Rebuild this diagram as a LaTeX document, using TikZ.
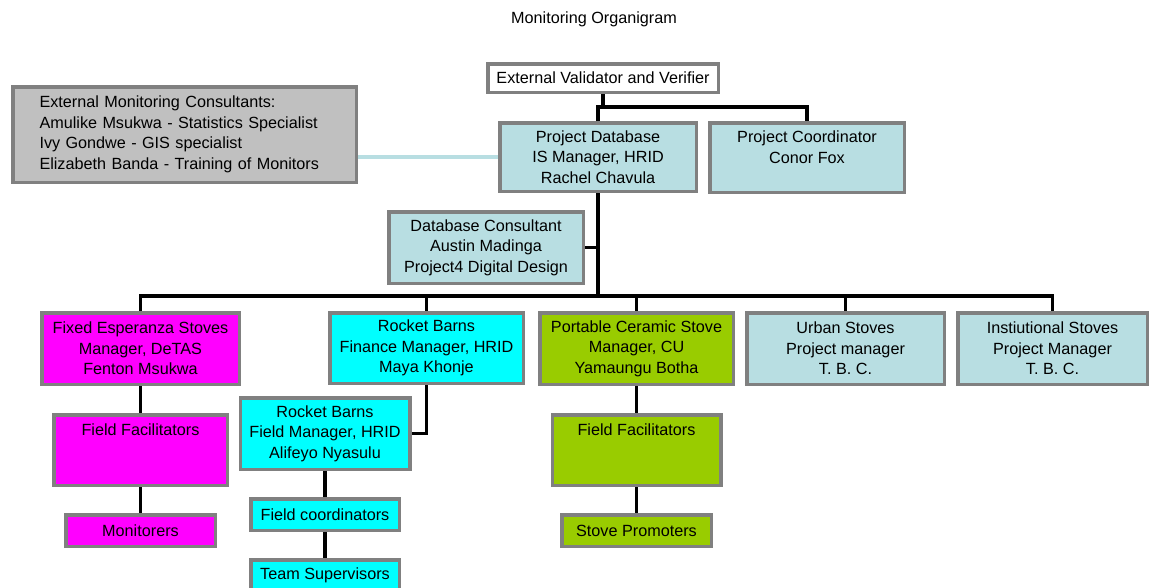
\documentclass[tikz,border=0pt]{standalone}
\usepackage{fontspec}
\setmainfont{Liberation Sans}
\definecolor{frame}{HTML}{808080}
\definecolor{silver}{HTML}{C0C0C0}
\definecolor{ice}{HTML}{B8DEE2}
\definecolor{fuchsia}{HTML}{FF00FF}
\definecolor{aqua}{HTML}{00FFFF}
\definecolor{stovegreen}{HTML}{99CC00}

\begin{document}
\begin{tikzpicture}[x=1pt,y=-1pt,font=\fontsize{16.2}{20.5}\selectfont,
    box/.style={draw=frame,line width=3.5pt,align=center,inner sep=0pt},
    link/.style={line width=3.5pt},
    softlink/.style={draw=ice,line width=4pt}]
    \useasboundingbox (0,0) rectangle (1149,587);
    \node (title) at (594,19) {Monitoring Organigram};
    \node[box,fill=white,minimum width=230.5pt,minimum height=28.5pt] (val) at (603,78) {External Validator and Verifier};
    \node[box,fill=silver,minimum width=343.5pt,minimum height=95.5pt,text width=290pt,align=left] (ext) at (184.5,134.5) {External Monitoring Consultants:\\Amulike Msukwa - Statistics Specialist\\Ivy Gondwe - GIS specialist\\Elizabeth Banda - Training of Monitors};
    \node[box,fill=ice,minimum width=196.5pt,minimum height=68.5pt] (db) at (598,157) {Project Database\\IS Manager, HRID\\Rachel Chavula};
    \node[box,fill=ice,minimum width=194.5pt,minimum height=69.5pt] (coord) at (807,157.5) {Project Coordinator\\Conor Fox\\\phantom{Conor Fox}};
    \node[box,fill=ice,minimum width=194.5pt,minimum height=71.5pt] (cons) at (486,247.5) {Database Consultant\\Austin Madinga\\Project4 Digital Design};
    \node[box,fill=fuchsia,minimum width=197.5pt,minimum height=71.5pt] (fix) at (140.5,348.5) {Fixed Esperanza Stoves\\Manager, DeTAS\\Fenton Msukwa};
    \node[box,fill=aqua,minimum width=193.5pt,minimum height=70.5pt] (fin) at (426.5,348) {Rocket Barns\\Finance Manager, HRID\\Maya Khonje};
    \node[box,fill=stovegreen,minimum width=193.5pt,minimum height=71.5pt] (port) at (636.5,348.5) {Portable Ceramic Stove\\Manager, CU\\Yamaungu Botha};
    \node[box,fill=ice,minimum width=197.5pt,minimum height=71.5pt] (urban) at (845.5,348.5) {Urban Stoves\\Project manager\\T. B. C.};
    \node[box,fill=ice,minimum width=189.5pt,minimum height=71.5pt] (inst) at (1052.5,348.5) {Instiutional Stoves\\Project Manager\\T. B. C.};
    \node[box,fill=fuchsia,minimum width=173.5pt,minimum height=70.5pt] (ff1) at (140.5,450) {Field Facilitators\\\phantom{Field}\\\phantom{Field}};
    \node[box,fill=fuchsia,minimum width=149.5pt,minimum height=31.5pt] (mon) at (140.5,530.5) {Monitorers};
    \node[box,fill=aqua,minimum width=169.5pt,minimum height=71.5pt] (fm) at (325,433.5) {Rocket Barns\\Field Manager, HRID\\Alifeyo Nyasulu};
    \node[box,fill=aqua,minimum width=148.5pt,minimum height=31.5pt] (fc) at (325,514.5) {Field coordinators};
    \node[box,fill=aqua,minimum width=148.5pt,minimum height=31.5pt] (ts) at (325,575.5) {Team Supervisors};
    \node[box,fill=stovegreen,minimum width=168.5pt,minimum height=70.5pt] (ff2) at (636.5,450) {Field Facilitators\\\phantom{Field}\\\phantom{Field}};
    \node[box,fill=stovegreen,minimum width=149.5pt,minimum height=31.5pt] (sp) at (636.5,530.5) {Stove Promoters};
    \coordinate (vjoin) at (603,107);
    \coordinate (spine) at (598,296);
    \draw[link] (val) -- (vjoin);
    \draw[link] (db.north) |- (vjoin) -| (coord.north);
    \draw[softlink] (db.west) -- (ext.east |- db.west);
    \draw[link] (db) -- (spine);
    \draw[link] (cons.east) -- (cons.east -| spine);
    \foreach \n in {fix,fin,port,urban,inst} \draw[link] (spine) -| (\n.north);
    \draw[link] (fin.south) |- (fm.east);
    \draw[link] (fix) -- (ff1); \draw[link] (ff1) -- (mon);
    \draw[link] (fm) -- (fc); \draw[link] (fc) -- (ts);
    \draw[link] (port) -- (ff2); \draw[link] (ff2) -- (sp);
  \end{tikzpicture}
\end{document}
